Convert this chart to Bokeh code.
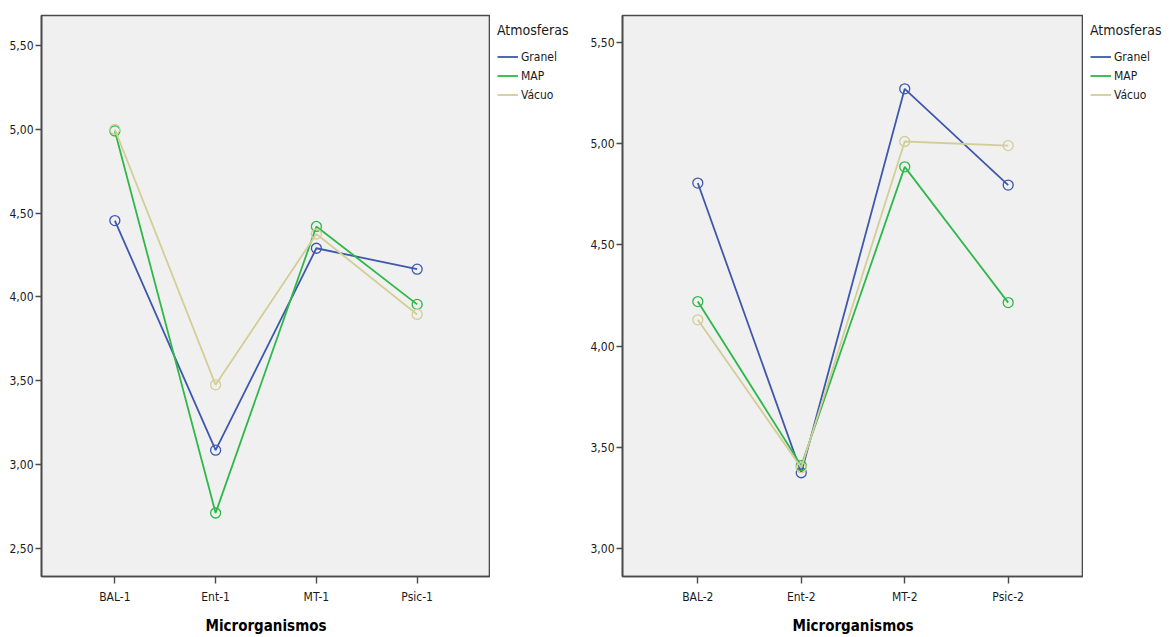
from bokeh.plotting import figure
from bokeh.models import FactorRange, Range1d, FixedTicker, Legend, LegendItem
from bokeh.layouts import row
from bokeh.embed import file_html
from bokeh.resources import INLINE

# ---------------- data ----------------
cats_1 = ["BAL-1", "Ent-1", "MT-1", "Psic-1"]
cats_2 = ["BAL-2", "Ent-2", "MT-2", "Psic-2"]
series_names = ["Granel", "MAP", "Vácuo"]

granel_1 = [4.455, 3.085, 4.29, 4.165]
map_1 = [4.99, 2.71, 4.42, 3.955]
vacuo_1 = [5.00, 3.475, 4.375, 3.895]

granel_2 = [4.805, 3.375, 5.27, 4.795]
map_2 = [4.22, 3.41, 4.885, 4.215]
vacuo_2 = [4.13, 3.40, 5.01, 4.99]

yticks_1 = [2.5, 3.0, 3.5, 4.0, 4.5, 5.0, 5.5]
ylabels_1 = ["2,50", "3,00", "3,50", "4,00", "4,50", "5,00", "5,50"]
yticks_2 = [3.0, 3.5, 4.0, 4.5, 5.0, 5.5]
ylabels_2 = ["3,00", "3,50", "4,00", "4,50", "5,00", "5,50"]

x_title = "Microrganismos"
legend_title = "Atmosferas"

# ---------------- style ----------------
COLORS = ["#3E58AC", "#2EB848", "#D3CE97"]
FONT = "DejaVu Sans Condensed"
FRAME = "#4a4a4a"
TEXT = "#1a1a1a"
TOP = 15
FH = 561
BOTTOM = 61


def make_panel(cats, series, yticks, ylabels, yr, fw, bl):
    p = figure(
        x_range=FactorRange(factors=cats, range_padding=0.114),
        y_range=Range1d(*yr),
        frame_width=fw, frame_height=FH,
        min_border_left=bl, min_border_right=0,
        min_border_top=TOP, min_border_bottom=BOTTOM,
        output_backend="svg", toolbar_location=None,
    )
    p.background_fill_color = "#F0F0F0"
    p.border_fill_color = "white"
    p.outline_line_color = FRAME
    p.outline_line_width = 1.6
    p.xgrid.visible = False
    p.ygrid.visible = False

    for name, vals, col in zip(series_names, series, COLORS):
        p.line(cats, vals, line_color=col, line_width=1.8)
        p.scatter(cats, vals, marker="circle", size=10, fill_color=None,
                  line_color=col, line_width=1.3)

    # y axis
    yax = p.yaxis[0]
    yax.ticker = FixedTicker(ticks=yticks)
    yax.major_label_overrides = {t: l for t, l in zip(yticks, ylabels)}
    yax.minor_tick_line_color = None
    yax.major_tick_out = 6
    yax.major_tick_in = 0
    yax.major_label_standoff = 2
    yax.axis_line_color = FRAME
    yax.axis_line_width = 1.6
    yax.major_tick_line_color = FRAME
    yax.major_tick_line_width = 1.4
    yax.major_label_text_font = FONT
    yax.major_label_text_font_size = "12px"
    yax.major_label_text_color = TEXT

    # x axis
    xax = p.xaxis[0]
    xax.major_tick_out = 7
    xax.major_tick_in = 0
    xax.major_label_standoff = 6
    xax.axis_line_color = FRAME
    xax.axis_line_width = 1.6
    xax.major_tick_line_color = FRAME
    xax.major_tick_line_width = 1.4
    xax.major_label_text_font = FONT
    xax.major_label_text_font_size = "12px"
    xax.major_label_text_color = TEXT
    xax.axis_label = x_title
    xax.axis_label_text_font = FONT
    xax.axis_label_text_font_size = "15px"
    xax.axis_label_text_font_style = "bold"
    xax.axis_label_text_color = "black"
    xax.axis_label_standoff = 10
    return p


def make_legend_fig(fw, series):
    q = figure(
        x_range=Range1d(0, 1), y_range=Range1d(0, 1),
        frame_width=fw, frame_height=FH,
        min_border=0, min_border_top=TOP, min_border_bottom=BOTTOM,
        x_axis_location=None, y_axis_location=None,
        output_backend="svg", toolbar_location=None,
    )
    q.outline_line_color = None
    q.background_fill_color = "white"
    q.border_fill_color = "white"
    q.xgrid.visible = False
    q.ygrid.visible = False
    items = []
    for name, vals, col in zip(series_names, series, COLORS):
        # single-point carrier line (draws nothing), only feeds the legend glyph
        r = q.line(x=[-1], y=[vals[0]], line_color=col, line_width=1.8)
        items.append(LegendItem(label=name, renderers=[r]))
    leg = Legend(items=items, location="top_left")
    leg.title = legend_title
    leg.title_text_font = FONT
    leg.title_text_font_size = "14px"
    leg.title_text_font_style = "normal"
    leg.title_text_color = TEXT
    leg.title_standoff = 9
    leg.label_text_font = FONT
    leg.label_text_font_size = "12px"
    leg.label_text_color = TEXT
    leg.label_height = 19
    leg.glyph_height = 19
    leg.glyph_width = 21
    leg.label_standoff = 3
    leg.spacing = 0
    leg.padding = 0
    leg.margin = 7
    leg.background_fill_alpha = 0
    leg.border_line_alpha = 0
    q.add_layout(leg, "center")
    return q


s1 = [granel_1, map_1, vacuo_1]
s2 = [granel_2, map_2, vacuo_2]
p1 = make_panel(cats_1, s1, yticks_1, ylabels_1, (2.331, 5.679), 449, 41)
l1 = make_legend_fig(87, s1)
p2 = make_panel(cats_2, s2, yticks_2, ylabels_2, (2.863, 5.632), 461, 45)
l2 = make_legend_fig(87, s2)

layout = row(p1, l1, p2, l2)
open("out.html", "w").write(file_html(layout, INLINE))
